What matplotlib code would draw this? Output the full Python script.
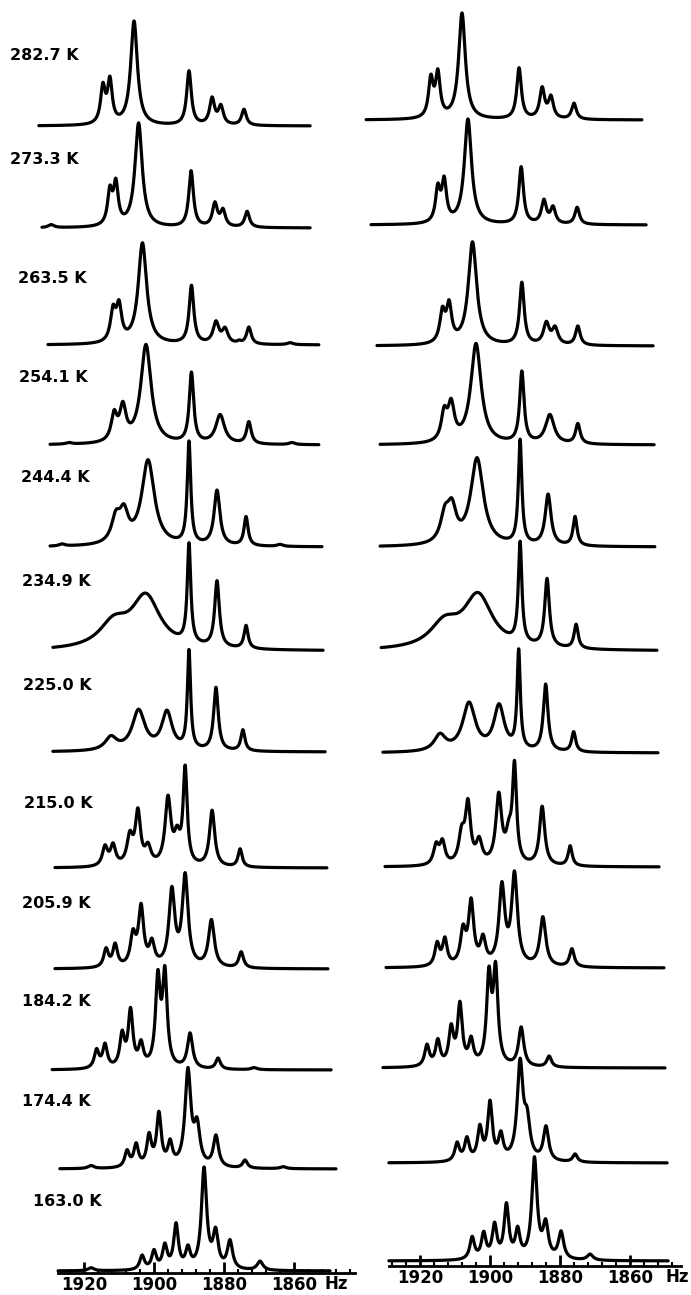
import numpy as np
import matplotlib
matplotlib.use("Agg")
import matplotlib.pyplot as plt
from matplotlib.ticker import FixedLocator

# ---------------- data ----------------
temperatures = ["282.7 K", "273.3 K", "263.5 K", "254.1 K", "244.4 K", "234.9 K",
                "225.0 K", "215.0 K", "205.9 K", "184.2 K", "174.4 K", "163.0 K"]

tick_values = [1920, 1900, 1880, 1860]
tick_labels = ["1920", "1900", "1880", "1860"]
unit_label = "Hz"

# peaks: (position in Hz, height, half-width in Hz); experimental (left) column
exp_2827 = [(1914.6, 36, 0.8), (1912.6, 42, 0.8), (1905.7, 104, 1.15), (1890.0, 54, 0.8),
            (1883.4, 26, 0.85), (1880.9, 18, 0.85), (1874.3, 16, 0.8)]
exp_2733 = [(1929.4, 3, 1.0), (1912.6, 33, 0.8), (1910.9, 40, 0.8), (1904.4, 104, 1.25),
            (1889.4, 56, 0.8), (1882.6, 23, 0.85), (1880.3, 16, 0.85), (1873.4, 16, 0.8)]
exp_2635 = [(1911.7, 30, 0.9), (1910.0, 34, 0.9), (1903.3, 101, 1.45), (1889.3, 58, 0.8),
            (1882.3, 21, 1.0), (1879.7, 14, 1.0), (1875.7, 2, 0.6), (1872.9, 17, 0.8),
            (1861.1, 2, 1.0)]
exp_2541 = [(1924.3, 1.5, 1.0), (1911.4, 26, 1.0), (1908.9, 33, 1.1), (1902.3, 99, 1.8),
            (1889.3, 70, 0.75), (1881.1, 29, 1.5), (1872.9, 22, 0.8), (1860.6, 2, 1.0)]
exp_2444 = [(1926.3, 2, 1.0), (1910.9, 24, 1.5), (1908.6, 28, 1.5), (1901.7, 85, 2.2),
            (1890.0, 102, 0.6), (1882.0, 55, 1.0), (1873.7, 29, 0.7), (1864.0, 2, 1.0)]
exp_2349 = [(1911.5, 24, 5.0), (1902.3, 52, 5.0), (1890.0, 99, 0.6), (1882.0, 66, 0.8),
            (1873.7, 23, 0.7)]
exp_2250 = [(1912.3, 13, 2.0), (1904.4, 40, 2.2), (1896.3, 38, 1.8), (1890.0, 98, 0.55),
            (1882.3, 63, 0.8), (1874.6, 21, 0.7)]
exp_2150 = [(1914.0, 19, 0.9), (1911.7, 20, 0.9), (1906.9, 28, 1.0), (1904.6, 52, 0.9),
            (1901.7, 17, 1.0), (1896.0, 66, 1.0), (1893.4, 25, 1.0), (1891.1, 95, 0.7),
            (1883.4, 56, 0.9), (1875.4, 18, 0.7)]
exp_2059 = [(1913.7, 18, 0.8), (1911.1, 22, 0.8), (1906.0, 30, 0.9), (1903.7, 58, 0.9),
            (1900.6, 22, 0.9), (1894.9, 75, 1.0), (1891.1, 90, 1.0), (1883.6, 47, 1.0),
            (1875.1, 16, 0.8)]
exp_1842 = [(1916.4, 18, 0.8), (1914.0, 23, 0.8), (1909.1, 32, 0.8), (1906.7, 56, 0.8),
            (1903.7, 22, 0.8), (1898.9, 86, 0.8), (1896.9, 91, 0.8), (1889.7, 35, 0.9),
            (1881.7, 11, 0.8), (1871.4, 2, 1.0)]
exp_1744 = [(1918.0, 3, 1.0), (1907.7, 16, 0.8), (1905.1, 22, 0.8), (1901.4, 30, 0.8),
            (1898.6, 52, 0.8), (1895.4, 22, 0.8), (1890.3, 95, 1.0), (1887.7, 38, 1.0),
            (1882.3, 31, 0.9), (1874.0, 8, 0.8), (1863.1, 2, 1.0)]
exp_1630 = [(1918.0, 3, 1.0), (1903.4, 14, 0.8), (1900.0, 18, 0.8), (1896.9, 23, 0.8),
            (1893.7, 44, 0.8), (1890.3, 19, 0.8), (1885.7, 100, 0.9), (1882.4, 35, 0.9),
            (1878.3, 28, 0.9), (1869.7, 9, 1.0)]

# simulated (right) column
sim_2827 = [(1916.9, 38, 0.8), (1914.9, 43, 0.8), (1908.0, 106, 1.15), (1891.7, 51, 0.8),
            (1885.1, 30, 0.85), (1882.6, 21, 0.85), (1876.0, 16, 0.8)]
sim_2733 = [(1914.9, 33, 0.8), (1913.1, 40, 0.8), (1906.3, 105, 1.25), (1891.1, 57, 0.8),
            (1884.6, 23, 0.85), (1882.0, 16, 0.85), (1875.1, 17, 0.8)]
sim_2635 = [(1913.6, 30, 0.9), (1911.7, 36, 0.9), (1905.0, 103, 1.45), (1890.9, 62, 0.8),
            (1883.9, 21, 1.0), (1881.4, 16, 1.0), (1874.9, 19, 0.8)]
sim_2541 = [(1913.1, 27, 1.0), (1911.1, 35, 1.1), (1904.0, 100, 1.8), (1890.9, 71, 0.75),
            (1882.9, 29, 1.5), (1874.9, 20, 0.8)]
sim_2444 = [(1912.9, 26, 1.5), (1910.9, 32, 1.5), (1903.7, 87, 2.2), (1891.4, 104, 0.6),
            (1883.4, 51, 1.0), (1875.7, 29, 0.7)]
sim_2349 = [(1913.0, 24, 5.0), (1903.4, 53, 5.0), (1891.4, 100, 0.6), (1883.7, 68, 0.8),
            (1875.4, 24, 0.7)]
sim_2250 = [(1914.3, 16, 2.0), (1906.0, 48, 2.2), (1897.4, 45, 1.8), (1891.8, 98, 0.55),
            (1884.1, 67, 0.8), (1876.1, 20, 0.7)]
sim_2150 = [(1915.4, 19, 0.9), (1913.6, 22, 0.9), (1908.1, 28, 1.0), (1906.3, 58, 0.9),
            (1903.1, 22, 1.0), (1897.5, 68, 1.0), (1894.6, 25, 1.0), (1893.0, 95, 0.7),
            (1885.1, 59, 0.9), (1877.1, 20, 0.7)]
sim_2059 = [(1915.1, 22, 0.8), (1912.9, 26, 0.8), (1907.7, 33, 0.9), (1905.4, 62, 0.9),
            (1902.0, 25, 0.9), (1896.6, 78, 1.0), (1893.0, 90, 1.0), (1884.9, 49, 1.0),
            (1876.6, 18, 0.8)]
sim_1842 = [(1918.0, 21, 0.8), (1914.9, 25, 0.8), (1911.1, 36, 0.8), (1908.6, 60, 0.8),
            (1905.4, 24, 0.8), (1900.3, 86, 0.8), (1898.4, 92, 0.8), (1891.1, 39, 0.9),
            (1883.1, 11, 0.8)]
sim_1744 = [(1909.4, 18, 0.8), (1906.6, 22, 0.8), (1902.9, 32, 0.8), (1900.0, 57, 0.8),
            (1896.9, 24, 0.8), (1891.4, 96, 1.0), (1889.4, 35, 1.0), (1884.0, 34, 0.9),
            (1875.7, 8, 0.8)]
sim_1630 = [(1905.1, 22, 0.8), (1901.8, 25, 0.8), (1898.7, 33, 0.8), (1895.3, 53, 0.8),
            (1892.1, 27, 0.8), (1887.3, 100, 0.9), (1884.1, 33, 0.9), (1879.7, 27, 0.9),
            (1871.4, 6, 1.0)]

# frequency extent (Hz) of each trace
exp_start = [1932.9, 1932.0, 1930.3, 1929.7, 1929.7, 1928.9, 1928.9, 1928.3, 1928.3, 1929.1, 1926.9, 1927.4]
exp_end = [1855.4, 1855.4, 1852.9, 1852.9, 1852.0, 1851.7, 1851.1, 1850.6, 1850.3, 1849.4, 1848.0, 1849.7]
sim_start = [1935.4, 1934.0, 1932.3, 1931.4, 1931.4, 1931.1, 1930.6, 1930.0, 1929.7, 1930.6, 1928.9, 1928.9]
sim_end = [1856.6, 1855.4, 1853.4, 1853.1, 1852.9, 1852.3, 1852.0, 1851.7, 1850.3, 1850.0, 1849.4, 1849.1]

exp_spectra = [exp_2827, exp_2733, exp_2635, exp_2541, exp_2444, exp_2349,
               exp_2250, exp_2150, exp_2059, exp_1842, exp_1744, exp_1630]
sim_spectra = [sim_2827, sim_2733, sim_2635, sim_2541, sim_2444, sim_2349,
               sim_2250, sim_2150, sim_2059, sim_1842, sim_1744, sim_1630]

# ---------------- layout (pixels of the 691 x 1295 figure) ----------------
W, H = 691, 1295
exp_base_px = [126, 228, 345, 445, 547, 651, 752, 868, 969, 1070, 1169, 1271]
sim_base_px = [120, 225, 346, 445, 547, 651, 753, 867, 968, 1068, 1163, 1261]
label_x_px = [10, 10, 18, 19, 21, 22, 23, 24, 22, 22, 22, 33]
label_y_px = [56, 159, 278, 377, 478, 581, 685, 804, 903, 1002, 1102, 1202]

PX_PER_HZ = 3.5
LEFT_1920_PX = 84
RIGHT_1920_PX = 420


def hz_at(px, ref_px):
    return 1920 - (px - ref_px) / PX_PER_HZ


def lorentz_sum(f, peaks):
    y = np.zeros_like(f)
    for f0, h, w in peaks:
        y += h * w * w / ((f - f0) ** 2 + w * w)
    return y


fig = plt.figure(figsize=(W / 100, H / 100), dpi=100)
fig.patch.set_facecolor("white")

LW = 2.3


def make_column(x0_px, x1_px, ref_px, spectra, starts, ends, bases):
    ax = fig.add_axes([x0_px / W, 0, (x1_px - x0_px) / W, 1])
    ax.set_xlim(hz_at(x0_px, ref_px), hz_at(x1_px, ref_px))
    ax.set_ylim(H, 0)
    ax.axis("off")
    for peaks, s, e, b in zip(spectra, starts, ends, bases):
        f = np.linspace(s, e, 3000)
        ax.plot(f, b - lorentz_sum(f, peaks), color="black", lw=LW,
                solid_joinstyle="round", solid_capstyle="round")
    return ax


make_column(0, 345, LEFT_1920_PX, exp_spectra, exp_start, exp_end, exp_base_px)
make_column(345, 691, RIGHT_1920_PX, sim_spectra, sim_start, sim_end, sim_base_px)

for t, xp, yp in zip(temperatures, label_x_px, label_y_px):
    fig.text(xp / W, 1 - yp / H, t, ha="left", va="center",
             fontsize=11.5, fontweight="bold", family="DejaVu Sans")


def add_axis(x0_px, x1_px, ref_px, y_px, line_from_px, line_to_px, unit_px):
    ax = fig.add_axes([x0_px / W, 1 - y_px / H, (x1_px - x0_px) / W, 0.001])
    ax.set_xlim(hz_at(x0_px, ref_px), hz_at(x1_px, ref_px))
    ax.set_ylim(0, 1)
    ax.patch.set_visible(False)
    for s in ("top", "left", "right"):
        ax.spines[s].set_visible(False)
    f_from = hz_at(line_from_px, ref_px)
    f_to = hz_at(line_to_px, ref_px)
    ax.spines["bottom"].set_linewidth(2.0)
    ax.spines["bottom"].set_bounds(f_from, f_to)
    ax.set_yticks([])
    ax.xaxis.set_major_locator(FixedLocator(tick_values))
    ax.set_xticklabels(tick_labels)
    minor = [v for v in range(int(np.floor(f_from)), int(np.ceil(f_to)), -1)
             if v % 4 == 0 and v % 20 != 0]
    ax.xaxis.set_minor_locator(FixedLocator(minor))
    ax.tick_params(axis="x", which="major", direction="in", length=8, width=2.0, pad=2,
                   labelsize=12)
    ax.tick_params(axis="x", which="minor", direction="in", length=3, width=1.5)
    for lab in ax.get_xticklabels():
        lab.set_fontweight("bold")
    fig.text(unit_px / W, 1 - (y_px + 11) / H, unit_label, ha="center", va="center",
             fontsize=12, fontweight="bold")
    return ax


add_axis(40, 360, LEFT_1920_PX, 1273, 58, 355, 336)
add_axis(380, 691, RIGHT_1920_PX, 1266, 389, 681, 677)

fig.savefig("out.png", dpi=100, facecolor="white")
